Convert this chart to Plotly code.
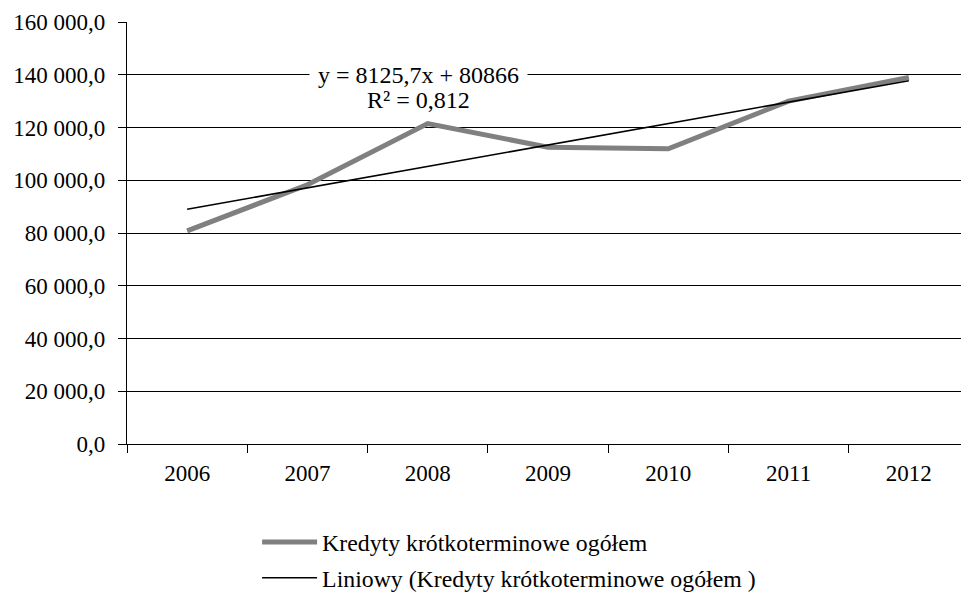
import plotly.graph_objects as go

years = ["2006", "2007", "2008", "2009", "2010", "2011", "2012"]
credits = [80800, 98300, 121500, 112500, 111900, 130000, 139000]
trend_slope = 8125.7
trend_intercept = 80866
trend_label = "y = 8125,7x + 80866"
r2_label = "R² = 0,812"
series_name = "Kredyty krótkoterminowe ogółem"
trend_name = "Liniowy (Kredyty krótkoterminowe ogółem )"
y_ticks = [0, 20000, 40000, 60000, 80000, 100000, 120000, 140000, 160000]

trend = [trend_slope * (i + 1) + trend_intercept for i in range(len(years))]

FONT = "Liberation Serif"

fig = go.Figure()
fig.add_trace(go.Scatter(x=years, y=credits, mode="lines", name=series_name,
                         line=dict(color="#808080", width=5), legendgroup="a"))
fig.add_trace(go.Scatter(x=years, y=trend, mode="lines", name=trend_name,
                         line=dict(color="black", width=1.5), legendgroup="b"))

fig.update_layout(
    width=961, height=585,
    margin=dict(l=119, r=0, t=14, b=149, autoexpand=False),
    plot_bgcolor="white", paper_bgcolor="white",
    separators=", ",
    font=dict(family=FONT, color="black", size=23),
    showlegend=True,
    legend=dict(x=0.1545, y=-0.180, xanchor="left", yanchor="top",
                font=dict(size=23.8, family=FONT, color="black"),
                tracegroupgap=2, itemwidth=55, bgcolor="rgba(0,0,0,0)"),
    xaxis=dict(type="category", tickson="boundaries", ticks="outside", ticklen=8,
               tickcolor="black", tickwidth=1.3, showline=True, linecolor="black",
               linewidth=1.3, showgrid=False, range=[-0.5, 6.5], automargin=False,
               ticklabelstandoff=8,
               tickfont=dict(size=23, family=FONT, color="black")),
    yaxis=dict(range=[0, 160000], tickvals=y_ticks, tickformat=",.1f",
               ticks="outside", ticklen=8, tickcolor="black", tickwidth=1.3,
               showline=True, linecolor="black", linewidth=1.3, automargin=False,
               ticklabelstandoff=8,
               showgrid=True, gridcolor="black", gridwidth=1.3, zeroline=False,
               tickfont=dict(size=23, family=FONT, color="black")),
    annotations=[
        dict(x=1.925, y=140000, xref="x", yref="y", text=trend_label, showarrow=False,
             xanchor="center", yanchor="middle", bgcolor="white", borderpad=8,
             font=dict(size=24, family=FONT, color="black")),
        dict(x=1.925, y=140000, xref="x", yref="y", text=r2_label, showarrow=False,
             xanchor="center", yanchor="middle", yshift=-25,
             font=dict(size=24, family=FONT, color="black")),
    ],
)

fig.write_html("out.html")
